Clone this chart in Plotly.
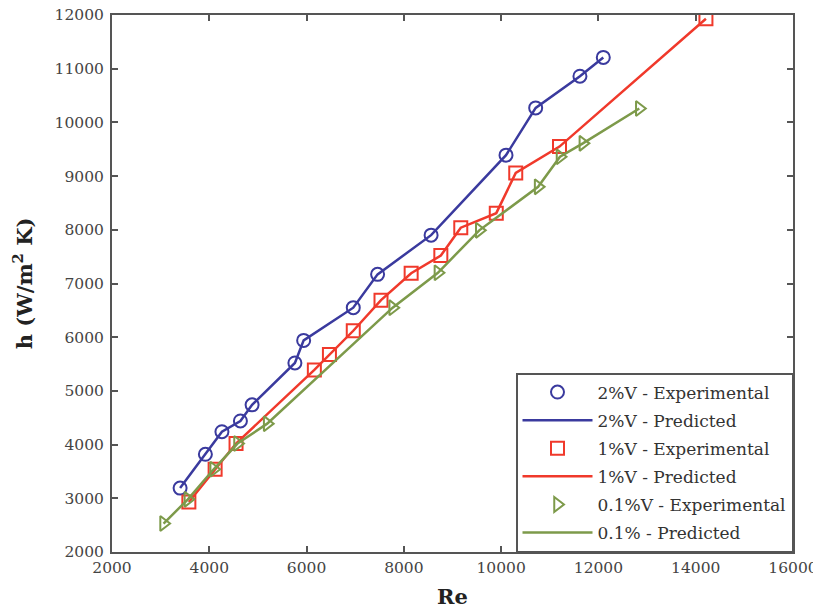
import plotly.graph_objects as go

# 2%V
re_2 = [3400, 3920, 4260, 4640, 4880, 5760, 5940, 6960, 7460, 8560, 10100, 10710, 11620, 12100]
h_2 = [3190, 3820, 4240, 4440, 4740, 5520, 5940, 6550, 7170, 7900, 9390, 10270, 10860, 11210]
# 1%V
re_1 = [3580, 4120, 4550, 6160, 6470, 6960, 7530, 8150, 8760, 9170, 9900, 10300, 11200, 14210]
h_1 = [2930, 3540, 4020, 5390, 5680, 6120, 6690, 7190, 7520, 8040, 8310, 9060, 9550, 11930]
# 0.1%V
re_01 = [3060, 3560, 4090, 4580, 5190, 7770, 8700, 9550, 10760, 11210, 11680, 12840]
h_01 = [2530, 2980, 3540, 4020, 4390, 6550, 7200, 7990, 8800, 9360, 9610, 10260]

x_ticks = [2000, 4000, 6000, 8000, 10000, 12000, 14000, 16000]
y_ticks = [2000, 3000, 4000, 5000, 6000, 7000, 8000, 9000, 10000, 11000, 12000]

blue = "#3a3a9e"
red = "#f0392b"
green = "#7d9a4a"

fig = go.Figure()
series = [
    ("2%V - Experimental", "2%V - Predicted", re_2, h_2, blue, "circle-open"),
    ("1%V - Experimental", "1%V - Predicted", re_1, h_1, red, "square-open"),
    ("0.1%V - Experimental", "0.1% - Predicted", re_01, h_01, green, "triangle-right-open"),
]
g = 0
for exp_name, pred_name, xs, ys, col, sym in series:
    fig.add_trace(go.Scatter(x=xs, y=ys, mode="markers", name=exp_name, legendgroup=f"g{g}",
                             marker=dict(symbol=sym, size=13, color=col,
                                         line=dict(width=2, color=col))))
    g += 1
    fig.add_trace(go.Scatter(x=xs, y=ys, mode="lines", name=pred_name, legendgroup=f"g{g}",
                             line=dict(color=col, width=2.5)))
    g += 1

axis_common = dict(
    showline=True, linecolor="#555555", linewidth=2, mirror="ticks",
    ticks="inside", ticklen=6, tickwidth=1.5, tickcolor="#555555",
    showgrid=False, zeroline=False, automargin=False, ticklabeloverflow="allow",
    tickfont=dict(family="DejaVu Serif", size=15.5, color="#444444"),
)
fig.update_xaxes(range=[2000, 16000], tickvals=x_ticks, ticktext=[str(v) for v in x_ticks],
                 title=dict(text="<b>Re</b>", font=dict(family="DejaVu Serif", size=21, color="#222222"),
                            standoff=14),
                 **axis_common)
fig.update_yaxes(range=[2000, 12000], tickvals=y_ticks, ticktext=[str(v) for v in y_ticks],
                 ticklabelstandoff=3,
                 title=dict(text="<b>h (W/m<sup>2</sup> K)</b>", font=dict(family="DejaVu Serif", size=21, color="#222222"),
                            standoff=16),
                 **axis_common)

# page body adds an 8px offset; figure sized so it fills the 821x610 window
fig.update_layout(
    width=813, height=602,
    margin=dict(l=104, r=28, t=7, b=58),
    plot_bgcolor="white", paper_bgcolor="white",
    legend=dict(x=1, y=0, xanchor="right", yanchor="bottom",
                bordercolor="#555555", borderwidth=1.5, bgcolor="white",
                font=dict(family="DejaVu Serif", size=17, color="#333333"),
                tracegroupgap=3, itemwidth=70),
    showlegend=True,
)

fig.write_html("out.html")
